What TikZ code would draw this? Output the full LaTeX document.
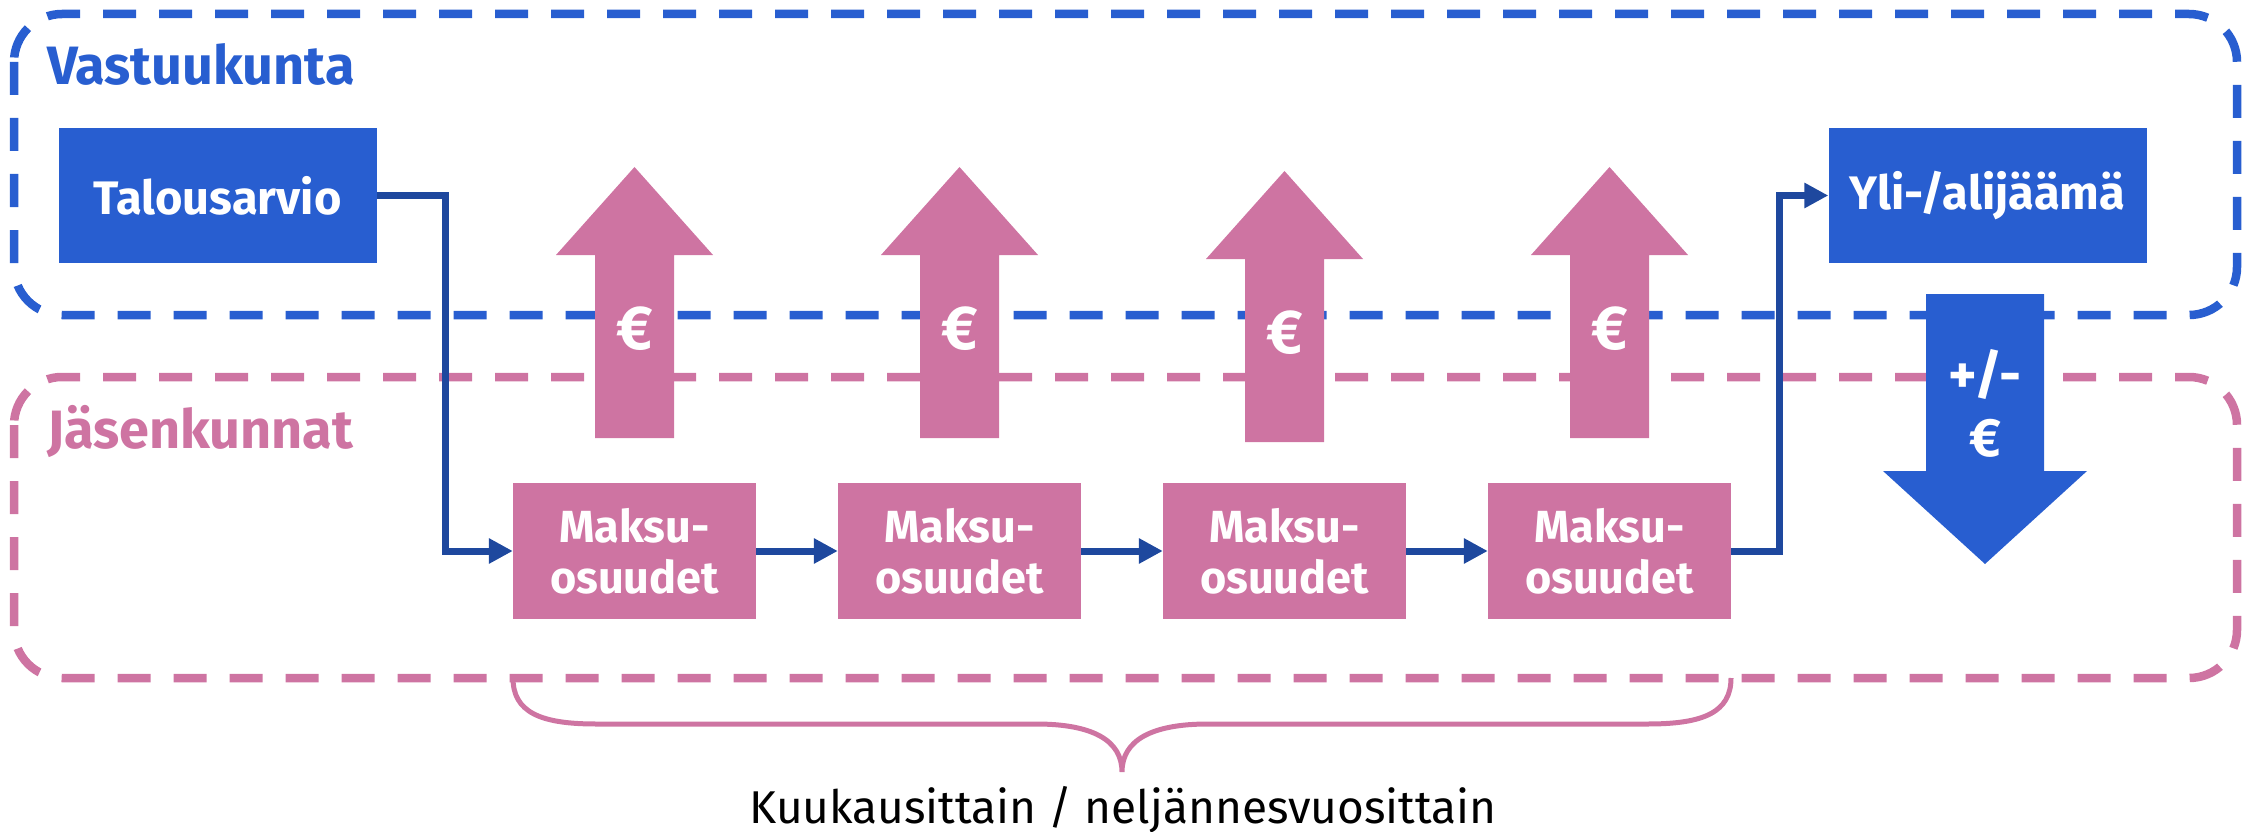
\documentclass[tikz,border=0pt]{standalone}
\usepackage{fontspec}
\setmainfont{Fira Sans}
\usetikzlibrary{arrows.meta}
\definecolor{bluF}{RGB}{40,94,208}
\definecolor{connC}{RGB}{30,72,158}
\definecolor{pinkF}{RGB}{206,116,162}
\begin{document}
\begin{tikzpicture}[x=1pt,y=-1pt,
  grp/.style={line width=8.5pt, dash pattern=on 33pt off 23pt, rounded corners=48pt},
  bbox/.style={fill=bluF, text=white, font=\fontsize{47}{52}\selectfont\bfseries, minimum width=318pt, minimum height=135pt, inner sep=0pt},
  pbox/.style={fill=pinkF, text=white, font=\fontsize{45}{51}\selectfont\bfseries, minimum width=243pt, minimum height=136pt, inner sep=0pt, align=center},
  connector/.style={draw=connC, line width=7pt, -{Triangle[length=24pt,width=24pt]}},
  eur/.style={text=white, font=\fontsize{62}{66}\selectfont\bfseries, inner sep=0pt},
  grplabel/.style={anchor=base west, font=\fontsize{54}{60}\selectfont\bfseries, inner sep=0pt}
]
\useasboundingbox (0,0) rectangle (2252,832);
% group frames
\draw[grp, draw=bluF] (14,14) rectangle (2237,315);
\draw[grp, draw=pinkF] (14,377) rectangle (2237,678);
\node[grplabel, text=bluF] (vk) at (47,85) {Vastuukunta};
\node[grplabel, text=pinkF] (jk) at (47,448) {Jäsenkunnat};
% pink up arrows
\foreach \cx/\dy [count=\i] in {634.5/0, 959.5/0, 1284.5/4, 1609.5/0} {
  \fill[pinkF] (\cx-39.5,438+\dy) -- (\cx-39.5,255+\dy) -- (\cx-78.5,255+\dy) -- (\cx,167+\dy)
     -- (\cx+78.5,255+\dy) -- (\cx+39.5,255+\dy) -- (\cx+39.5,438+\dy) -- cycle;
  \node[eur] (e\i) at (\cx,329+\dy) {€};
}
% blue down arrow
\fill[bluF] (1926,294) -- (2044,294) -- (2044,471) -- (2087,471) -- (1985,564) -- (1883,471) -- (1926,471) -- cycle;
\node[eur, font=\fontsize{54}{58}\selectfont\bfseries] (pm) at (1985,374) {+/-};
\node[eur, font=\fontsize{54}{58}\selectfont\bfseries] (pme) at (1985,438) {€};
% boxes
\node[bbox] (tal) at (217.5,195.5) {Talousarvio};
\node[bbox] (yli) at (1987.5,195.5) {Yli-/alijäämä};
\node[pbox] (m1) at (634.5,551) {Maksu-\\osuudet};
\node[pbox] (m2) at (959.5,551) {Maksu-\\osuudet};
\node[pbox] (m3) at (1284.5,551) {Maksu-\\osuudet};
\node[pbox] (m4) at (1609.5,551) {Maksu-\\osuudet};
% connectors
\draw[connector] (tal.east) -- ++(69,0) |- (m1.west);
\draw[connector] (m1) -- (m2);
\draw[connector] (m2) -- (m3);
\draw[connector] (m3) -- (m4);
\draw[connector] (m4.east) -- ++(48,0) |- (yli.west);
% brace
\coordinate (bl) at (513,678);
\coordinate (br) at (1731,678);
\coordinate (bt) at (1122,772);
\draw[pinkF, line width=5pt] (bl) .. controls (513,712) and (540,724) .. (596,724) -- (1036,724)
  .. controls (1092,724) and (1122,740) .. (bt)
  .. controls (1122,740) and (1152,724) .. (1208,724) -- (1648,724)
  .. controls (1704,724) and (1731,712) .. (br);
\node[anchor=base, font=\fontsize{46}{52}\selectfont, inner sep=0pt] (lbl) at (1123,823) {Kuukausittain / neljännesvuosittain};
\end{tikzpicture}
\end{document}
